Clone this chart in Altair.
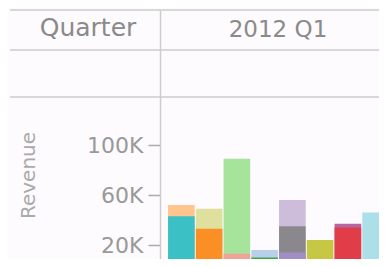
import altair as alt
import pandas as pd

# ---- data ----
row_title = "Quarter"
col_label = "2012 Q1"
y_title = "Revenue"
y_ticks = [20000, 60000, 100000]

slots = ["S1", "S2", "S3", "S4", "S5", "S6", "S7", "S8"]
bar_slot = ["S1", "S1", "S2", "S2", "S3", "S3", "S4", "S4",
            "S5", "S5", "S5", "S6", "S6", "S7", "S7", "S8"]
bar_series = ["s2", "s1", "s4", "s3", "s6", "s5", "s8", "s7",
              "s10", "s9", "s11", "s12", "s13", "s14", "s15", "s16"]
bar_value = [52000, 43000, 49000, 33000, 89000, 13000, 16000, 10000,
             56000, 35000, 14000, 24000, 8000, 37000, 34000, 46000]

series_names = ["s1", "s2", "s3", "s4", "s5", "s6", "s7", "s8", "s9",
                "s10", "s11", "s12", "s13", "s14", "s15", "s16"]
series_colors = ["#17becf", "#ffbb78", "#ff7f0e", "#dbdb8d", "#ff9896",
                 "#98df8a", "#2ca02c", "#aec7e8", "#7f7f7f", "#c5b0d5",
                 "#a48fd0", "#bcbd22", "#1f77b4", "#a94a92", "#e8363a",
                 "#9edae5"]

df = pd.DataFrame({"slot": bar_slot, "series": bar_series, "value": bar_value})

W = 219
H = 249

bars = alt.Chart(df).mark_bar(opacity=0.85, clip=True).encode(
    x=alt.X("slot:N", axis=None,
            scale=alt.Scale(domain=slots, range=[0, 237],
                            paddingInner=0.04, paddingOuter=0.29)),
    y=alt.Y("value:Q", stack=None,
            scale=alt.Scale(domain=[8800, 208000], nice=False, zero=False),
            axis=alt.Axis(values=y_ticks, grid=False,
                          labelExpr="(datum.value / 1000) + 'K'",
                          labelFontSize=22, labelColor="#999999",
                          labelFont="DejaVu Sans", labelPadding=5,
                          tickSize=12, tickColor="#aaaaaa", tickWidth=1.5,
                          domainColor="#cccccc", domainWidth=1.5,
                          title=y_title, titleFontSize=20,
                          titleFont="DejaVu Sans", titleFontWeight="normal",
                          titleColor="#aaaaaa", titleX=-132, titleY=165,
                          titleBaseline="middle")),
    color=alt.Color("series:N", legend=None,
                    scale=alt.Scale(domain=series_names, range=series_colors)),
)

hdr = pd.DataFrame({"t": [row_title]})
row_text = alt.Chart(hdr).mark_text(
    font="DejaVu Sans", fontSize=25, color="#8a8a8a", align="center",
    baseline="alphabetic").encode(text="t:N", x=alt.value(-72), y=alt.value(26))

hdr2 = pd.DataFrame({"t": [col_label]})
col_text = alt.Chart(hdr2).mark_text(
    font="DejaVu Sans", fontSize=23, color="#8a8a8a", align="center",
    baseline="alphabetic").encode(text="t:N", x=alt.value(118), y=alt.value(27))

rule_style = dict(color="#cccccc", strokeWidth=1.5)
r0 = alt.Chart(hdr).mark_rule(**rule_style).encode(
    x=alt.value(-150), x2=alt.value(W), y=alt.value(0))
r1 = alt.Chart(hdr).mark_rule(**rule_style).encode(
    x=alt.value(-150), x2=alt.value(W), y=alt.value(40))
r2 = alt.Chart(hdr).mark_rule(**rule_style).encode(
    x=alt.value(-150), x2=alt.value(W), y=alt.value(87))

chart = alt.layer(r0, r1, r2, bars, row_text, col_text).properties(
    width=W, height=H,
    autosize=alt.AutoSizeParams(type="none"),
    padding={"left": 152, "top": 2, "right": 0, "bottom": 0},
    background="#fdfbfd",
).configure_view(stroke=None)

chart.save("out.html", embed_options={"renderer": "svg", "actions": False})
